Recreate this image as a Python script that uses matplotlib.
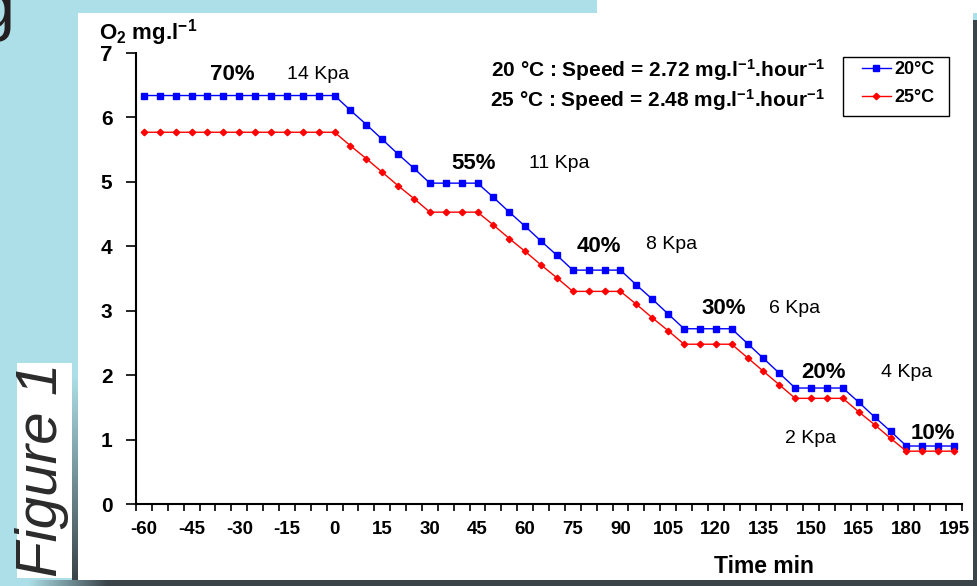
import matplotlib
matplotlib.use('Agg')
import matplotlib.pyplot as plt
from matplotlib.patches import Rectangle
import numpy as np

plt.rcParams['font.family'] = ['Liberation Sans', 'DejaVu Sans']
plt.rcParams['mathtext.fontset'] = 'custom'
plt.rcParams['mathtext.rm'] = 'Liberation Sans'
plt.rcParams['mathtext.bf'] = 'Liberation Sans:bold'
plt.rcParams['mathtext.it'] = 'Liberation Sans:italic'

# time (min), one point every 5 min
time = [-60, -55, -50, -45, -40, -35, -30, -25, -20, -15, -10, -5, 0,
        5, 10, 15, 20, 25, 30, 35, 40, 45, 50, 55, 60, 65, 70, 75, 80,
        85, 90, 95, 100, 105, 110, 115, 120, 125, 130, 135, 140, 145,
        150, 155, 160, 165, 170, 175, 180, 185, 190, 195]

# O2 (mg/l) at 20 degC
o2_20 = [6.34, 6.34, 6.34, 6.34, 6.34, 6.34, 6.34, 6.34, 6.34, 6.34, 6.34, 6.34, 6.34,
         6.11, 5.89, 5.66, 5.43, 5.21,
         4.98, 4.98, 4.98, 4.98,
         4.76, 4.53, 4.31, 4.08, 3.86,
         3.63, 3.63, 3.63, 3.63,
         3.40, 3.18, 2.95,
         2.72, 2.72, 2.72, 2.72,
         2.49, 2.26, 2.03,
         1.80, 1.80, 1.80, 1.80,
         1.58, 1.35, 1.13,
         0.90, 0.90, 0.90, 0.90]

# O2 (mg/l) at 25 degC
o2_25 = [5.77, 5.77, 5.77, 5.77, 5.77, 5.77, 5.77, 5.77, 5.77, 5.77, 5.77, 5.77, 5.77,
         5.56, 5.36, 5.15, 4.94, 4.74,
         4.53, 4.53, 4.53, 4.53,
         4.33, 4.12, 3.92, 3.71, 3.51,
         3.30, 3.30, 3.30, 3.30,
         3.10, 2.89, 2.69,
         2.48, 2.48, 2.48, 2.48,
         2.27, 2.06, 1.85,
         1.64, 1.64, 1.64, 1.64,
         1.43, 1.23, 1.02,
         0.82, 0.82, 0.82, 0.82]

x_labels = [-60, -45, -30, -15, 0, 15, 30, 45, 60, 75, 90, 105, 120, 135, 150, 165, 180, 195]

# plateau labels: (text, time, O2)
pct_labels = [('70%', -32.3, 6.66), ('55%', 43.7, 5.28), ('40%', 83.1, 4.0),
              ('30%', 122.6, 3.04), ('20%', 154.0, 2.04), ('10%', 188.4, 1.10)]
kpa_labels = [('14 Kpa', -5.2, 6.66), ('11 Kpa', 70.7, 5.28), ('8 Kpa', 106.0, 4.02),
              ('6 Kpa', 144.8, 3.04), ('4 Kpa', 180.2, 2.04), ('2 Kpa', 149.7, 1.02)]

W, H = 977, 586
fig = plt.figure(figsize=(W / 100, H / 100), dpi=100, facecolor='#ADDFE8')

# background decoration in pixel coordinates
bg = fig.add_axes([0, 0, 1, 1])
bg.set_xlim(0, W)
bg.set_ylim(H, 0)
bg.axis('off')
bg.set_zorder(0)
dark = np.array([0x3a, 0x44, 0x49]) / 255
light = np.array([0xAD, 0xDF, 0xE8]) / 255
bg.add_patch(Rectangle((78, 13), 895, 567, facecolor='white', edgecolor='none'))
bg.add_patch(Rectangle((597, 0), 380, 13, facecolor='white', edgecolor='none'))
bg.add_patch(Rectangle((973, 20), 4, 566, facecolor=dark, edgecolor='none'))
grad = np.linspace(0, 1, 80)
row = np.array([light * (1 - g) + dark * g for g in grad])[None, :, :]
bg.imshow(row, extent=(28, 108, 586, 580), aspect='auto', interpolation='bilinear')
bg.add_patch(Rectangle((108, 580), 869, 6, facecolor=dark, edgecolor='none'))
col = np.array([light * (1 - g) + dark * g for g in grad])[:, None, :]
bg.imshow(col, extent=(72, 78, 580, 375), aspect='auto', interpolation='bilinear')
bg.add_patch(Rectangle((17, 363), 55, 215, facecolor='white', edgecolor='none'))
bg.text(42, 470, 'Figure 1', rotation=90, ha='center', va='center', fontsize=42,
        style='italic', color='#2b2b2b')
bg.text(-4, 28, 'g', ha='center', va='baseline', fontsize=48, color='#231f20')
bg.add_patch(Rectangle((843, 57), 106, 59, facecolor='white', edgecolor='black', lw=1))

ax = fig.add_axes([136 / W, 82 / H, 826 / W, 451 / H])
ax.set_zorder(1)
ax.patch.set_visible(False)

ax.plot(time, o2_20, color='#0000FF', lw=1, marker='s', markersize=5, label='20°C')
ax.plot(time, o2_25, color='#FF0000', lw=1, marker='D', markersize=3.3, label='25°C')

ax.set_xlim(-62.5, 197.5)
ax.set_ylim(0, 7)
ax.set_xticks(x_labels)
ax.set_xticklabels([str(v) for v in x_labels], fontweight='bold', fontsize=13.5)
ax.set_xticks(np.arange(-62.5, 198, 5), minor=True)
ax.tick_params(axis='x', which='major', length=0, pad=12)
ax.tick_params(axis='x', which='minor', length=5, width=1.2, direction='out')
ax.set_yticks(range(8))
ax.set_yticklabels([str(v) for v in range(8)], fontweight='bold', fontsize=15)
ax.get_yticklabels()[-1].set_fontsize(16)
ax.tick_params(axis='y', length=7, width=1.2, pad=10)
for s in ['top', 'right']:
    ax.spines[s].set_visible(False)
for s in ['left', 'bottom']:
    ax.spines[s].set_linewidth(1.5)

for txt, x, y in pct_labels:
    ax.text(x, y, txt, ha='center', va='center', fontsize=16, fontweight='bold')
for txt, x, y in kpa_labels:
    ax.text(x, y, txt, ha='center', va='center', fontsize=14)

fig.text(825 / W, 1 - 70 / H, r'20 °C : Speed = 2.72 mg.l$^{\mathbf{-1}}$.hour$^{\mathbf{-1}}$',
         ha='right', va='center', fontsize=15, fontweight='bold')
fig.text(825 / W, 1 - 100 / H, r'25 °C : Speed = 2.48 mg.l$^{\mathbf{-1}}$.hour$^{\mathbf{-1}}$',
         ha='right', va='center', fontsize=15, fontweight='bold')

fig.text(99 / W, 1 - 39 / H, r'$\mathbf{O_2}$ mg.l$^{\mathbf{-1}}$', ha='left', va='baseline',
         fontsize=16, fontweight='bold')
fig.text(764 / W, 1 - 573 / H, 'Time min', ha='center', va='baseline', fontsize=16.5,
         fontweight='bold')

ax.legend(loc='upper left', bbox_to_anchor=(862 / W, 1 - 61 / H), bbox_transform=fig.transFigure,
          frameon=False, prop={'weight': 'bold', 'size': 13}, handlelength=1.6,
          handletextpad=0.2, labelspacing=0.6, borderpad=0, borderaxespad=0)

fig.savefig('out.png', dpi=100, facecolor=fig.get_facecolor())
